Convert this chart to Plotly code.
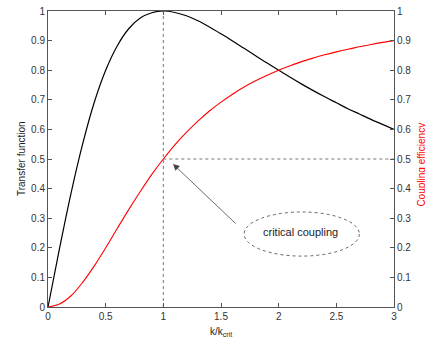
import plotly.graph_objects as go

# k/k_crit values
k_ratio = [0.0, 0.1, 0.2, 0.3, 0.4, 0.5, 0.6, 0.7, 0.8, 0.9, 1.0,
           1.1, 1.2, 1.3, 1.4, 1.5, 1.6, 1.7, 1.8, 1.9, 2.0,
           2.1, 2.2, 2.3, 2.4, 2.5, 2.6, 2.7, 2.8, 2.9, 3.0]
# Transfer function (black curve, left axis)
transfer = [0.000, 0.198, 0.385, 0.550, 0.690, 0.800, 0.882, 0.940, 0.976, 0.994, 1.000,
            0.995, 0.984, 0.967, 0.946, 0.923, 0.899, 0.874, 0.849, 0.824, 0.800,
            0.776, 0.753, 0.731, 0.710, 0.690, 0.670, 0.652, 0.634, 0.617, 0.600]
# Coupling efficiency (red curve, right axis)
efficiency = [0.000, 0.010, 0.038, 0.083, 0.138, 0.200, 0.265, 0.329, 0.390, 0.448, 0.500,
              0.548, 0.590, 0.628, 0.662, 0.692, 0.719, 0.743, 0.764, 0.783, 0.800,
              0.815, 0.829, 0.841, 0.852, 0.862, 0.871, 0.879, 0.887, 0.894, 0.900]
ticks = [0, 0.1, 0.2, 0.3, 0.4, 0.5, 0.6, 0.7, 0.8, 0.9, 1]
tick_text = ["0", "0.1", "0.2", "0.3", "0.4", "0.5", "0.6", "0.7", "0.8", "0.9", "1"]
x_ticks = [0, 0.5, 1, 1.5, 2, 2.5, 3]
x_tick_text = ["0", "0.5", "1", "1.5", "2", "2.5", "3"]
critical_k = 1.0
critical_eff = 0.5

FONT = "Liberation Sans, Arial, sans-serif"
AX = "#555555"

fig = go.Figure()
fig.add_trace(go.Scatter(x=k_ratio, y=transfer, mode="lines", line=dict(color="black", width=1.2, shape="spline"),
                         showlegend=False, yaxis="y"))
fig.add_trace(go.Scatter(x=k_ratio, y=efficiency, mode="lines", line=dict(color="red", width=1.1, shape="spline"),
                         showlegend=False, yaxis="y2"))

# dotted guide lines
fig.add_shape(type="line", xref="x", yref="y", x0=critical_k, x1=critical_k, y0=0, y1=1,
              line=dict(color="#777777", width=1, dash="dot"), layer="below")
fig.add_shape(type="line", xref="x", yref="y", x0=critical_k, x1=3, y0=critical_eff, y1=critical_eff,
              line=dict(color="#777777", width=1, dash="dot"), layer="below")
# ellipse
fig.add_shape(type="circle", xref="x", yref="y", x0=1.70, x1=2.70, y0=0.172, y1=0.321,
              line=dict(color="#666666", width=1, dash="dot"))

fig.add_annotation(x=2.19, y=0.252, xref="x", yref="y", text="critical coupling", showarrow=False,
                   font=dict(family=FONT, size=11, color="#222222"))
fig.add_annotation(x=1.084, y=0.483, xref="x", yref="y", ax=1.64, ay=0.277, axref="x", ayref="y",
                   text="", showarrow=True, arrowhead=2, arrowsize=1.6, arrowwidth=0.8, arrowcolor="#444444")

# axis titles
fig.add_annotation(x=-0.078, y=0.5, xref="paper", yref="paper", text="Transfer function", showarrow=False,
                   xanchor="center", yanchor="middle",
                   textangle=-90, font=dict(family=FONT, size=10, color="#222222"))
fig.add_annotation(x=1.08, y=0.48, xref="paper", yref="paper", text="Coupling efficiency", showarrow=False,
                   xanchor="center", yanchor="middle",
                   textangle=-90, font=dict(family=FONT, size=10, color="red"))
fig.add_annotation(x=0.5, y=-0.085, xref="paper", yref="paper", text="k/k<sub>crit</sub>", showarrow=False,
                   xanchor="center", yanchor="middle", font=dict(family=FONT, size=10, color="#222222"))

fig.update_layout(
    width=425, height=341,
    margin=dict(l=48, r=31, t=11, b=34, autoexpand=False),
    paper_bgcolor="white", plot_bgcolor="white",
    font=dict(family=FONT, size=10, color="#333333"),
    hovermode=False,
    xaxis=dict(range=[0, 3], tickvals=x_ticks, ticktext=x_tick_text, showgrid=False, zeroline=False,
               showline=True, linecolor=AX, linewidth=1, mirror="ticks", ticks="inside", ticklen=4,
               tickcolor=AX, ticklabeloverflow="allow", automargin=False),
    yaxis=dict(range=[0, 1], tickvals=ticks, ticktext=tick_text, showgrid=False, zeroline=False,
               showline=True, linecolor=AX, linewidth=1, ticks="inside", ticklen=4, tickcolor=AX,
               ticklabeloverflow="allow", automargin=False),
    yaxis2=dict(range=[0, 1], tickvals=ticks, ticktext=tick_text, overlaying="y", side="right",
                showgrid=False, zeroline=False, showline=True, linecolor=AX, linewidth=1,
                ticks="inside", ticklen=4, tickcolor=AX, ticklabeloverflow="allow", automargin=False),
)

fig.write_html("out.html", config={"displayModeBar": False},
               post_script="document.body.style.margin='0px';")
